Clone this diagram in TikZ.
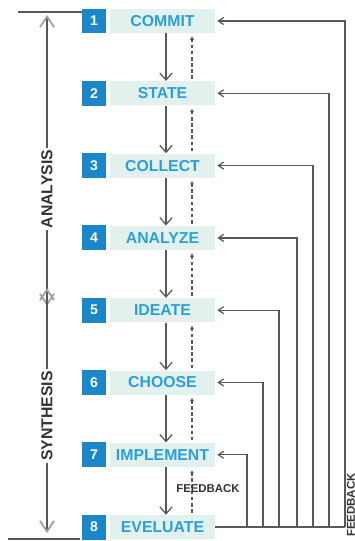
\documentclass[tikz,border=0pt]{standalone}
\usepackage{fontspec}
\setmainfont{Liberation Sans}
\usetikzlibrary{arrows.meta}
\definecolor{pasoAzul}{HTML}{1B87C9}
\definecolor{pasoTexto}{HTML}{2AA0DA}
\definecolor{pasoFondo}{HTML}{E2F1EE}
\definecolor{lineaGris}{HTML}{585858}
\definecolor{puntaGris}{HTML}{A0A0A0}

\begin{document}
\begin{tikzpicture}[x=0.02cm, y=-0.02cm,
  numero/.style={fill=pasoAzul, text=white, font=\fontsize{8}{8}\selectfont\bfseries, minimum size=0.5cm, inner sep=0pt},
  etiqueta/.style={fill=pasoFondo, text=pasoTexto, font=\fontsize{9}{9}\selectfont\bfseries, minimum width=2.1cm, minimum height=0.48cm, inner sep=0pt},
  flecha/.style={draw=lineaGris, line width=0.7pt, -{Straight Barb[length=4pt,width=7pt]}},
  retro/.style={draw=lineaGris, line width=0.7pt, dash pattern=on 2pt off 1.5pt, -{Latex[length=2pt,width=2.5pt]}},
  lazo/.style={draw=lineaGris, line width=0.7pt},
  fase/.style={fill=white, rotate=90, text=black!80, font=\fontsize{9}{9}\selectfont\bfseries, inner sep=1pt},
  punta/.tip={Straight Barb[length=6pt,width=8pt,line width=1pt,color=puntaGris]},
]
  \useasboundingbox (0,0) rectangle (355,541);

  % Pasos del proceso
  \foreach \i/\txt in {1/COMMIT,2/STATE,3/COLLECT,4/ANALYZE,5/IDEATE,6/CHOOSE,7/IMPLEMENT,8/EVELUATE} {
    \node[numero] (n\i) at (94, {21+72.3*(\i-1)}) {\i};
    \node[etiqueta] (s\i) at (162.5, {21+72.3*(\i-1)}) {\txt};
  }

  % Flechas hacia abajo y retroalimentacion punteada
  \foreach \i [evaluate=\i as \j using int(\i+1)] in {1,...,7} {
    \draw[flecha] ([xshift=0.07cm]s\i.south) -- ([xshift=0.07cm]s\j.north);
    \draw[retro] ([xshift=0.59cm,yshift=0.04cm]s\j.north) -- ([xshift=0.59cm,yshift=-0.06cm]s\i.south);
  }
  \node[font=\fontsize{6.5}{6.5}\selectfont\bfseries, text=black!80] (fbtexto) at (208,489) {FEEDBACK};

  % Lazos de retroalimentacion a la derecha
  \foreach \i/\xx in {1/345,2/329,3/313,4/297,5/279,6/263,7/247} {
    \coordinate (b\i) at (\xx, 527.1);
    \draw[lazo, {Straight Barb[length=3pt,width=4pt]}-] ([xshift=0.04cm]s\i.east) -| (b\i);
  }
  \draw[lazo] (s8.east) -- (b1);
  \node[rotate=90, font=\fontsize{6.5}{6.5}\selectfont\bfseries, text=black!80] (fbderecha) at (351,505) {FEEDBACK};

  % Llave izquierda: analisis y sintesis
  \draw[lazo] (18,12) -- (82,12);
  \draw[lazo] (8,539) -- (80,539);
  \draw[lazo, punta-punta] (47,15) -- (47,306);
  \draw[lazo, punta-punta] (47,288) -- (47,533);
  \node[fase] (analisis) at (47,189) {ANALYSIS};
  \node[fase] (sintesis) at (47,416) {SYNTHESIS};
\end{tikzpicture}
\end{document}
